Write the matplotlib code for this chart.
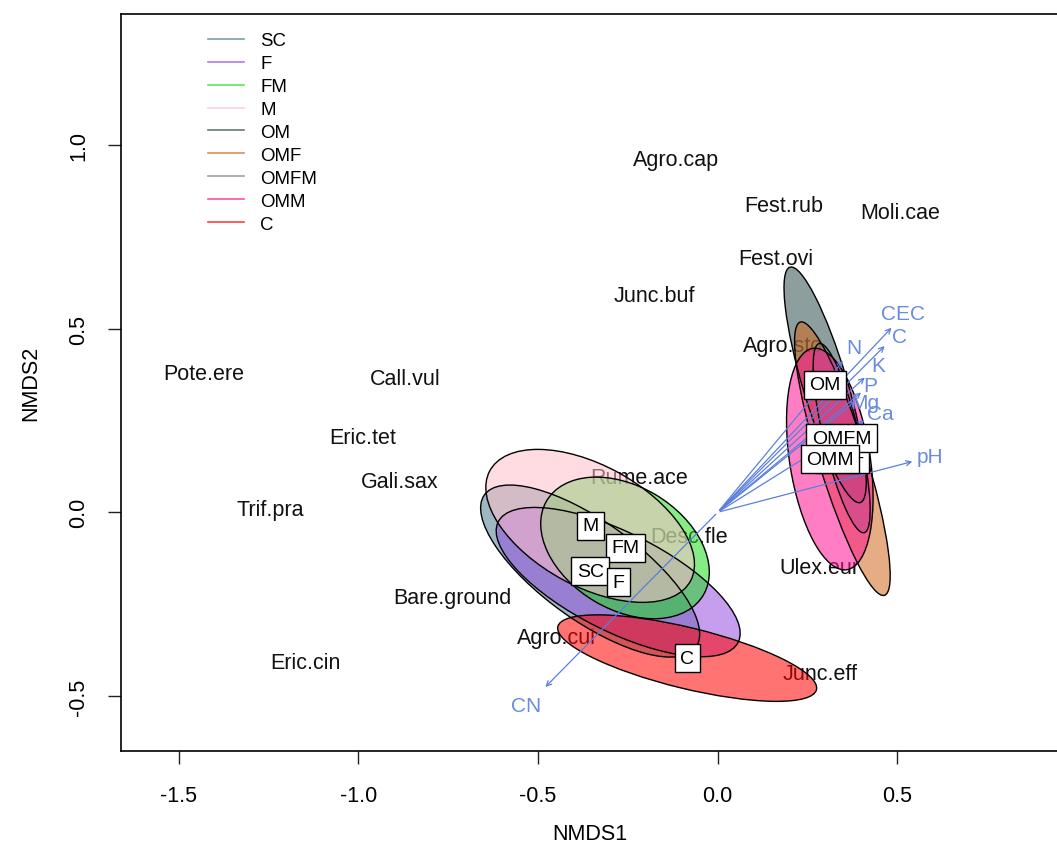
import matplotlib
matplotlib.use("Agg")
import matplotlib.pyplot as plt
from matplotlib.patches import Ellipse
from matplotlib.lines import Line2D

plt.rcParams['font.family'] = ['Liberation Sans', 'DejaVu Sans']

# species scores (NMDS1, NMDS2)
species = ["Agro.cap", "Fest.rub", "Moli.cae", "Fest.ovi", "Junc.buf", "Agro.sto",
           "Pote.ere", "Call.vul", "Eric.tet", "Rume.ace", "Gali.sax", "Trif.pra",
           "Desc.fle", "Bare.ground", "Ulex.eur", "Agro.cui", "Eric.cin", "Junc.eff"]
sp_x = [-0.115, 0.184, 0.507, 0.162, -0.177, 0.183,
        -1.430, -0.870, -0.988, -0.220, -0.884, -1.246,
        -0.080, -0.739, 0.282, -0.448, -1.148, 0.285]
sp_y = [0.961, 0.836, 0.817, 0.690, 0.591, 0.454,
        0.379, 0.364, 0.204, 0.096, 0.083, 0.007,
        -0.065, -0.231, -0.149, -0.340, -0.408, -0.440]

# treatment groups: centroid + ellipse (semi axes, angle in degrees)
groups = ["SC", "F", "FM", "M", "OM", "OMF", "OMFM", "OMM", "C"]
cen_x = [-0.355, -0.277, -0.258, -0.355, 0.299, 0.347, 0.345, 0.312, -0.085]
cen_y = [-0.160, -0.190, -0.097, -0.037, 0.347, 0.146, 0.202, 0.145, -0.397]
semi_a = [0.360, 0.372, 0.253, 0.317, 0.335, 0.390, 0.265, 0.305, 0.370]
semi_b = [0.135, 0.135, 0.168, 0.165, 0.062, 0.066, 0.050, 0.112, 0.083]
angle = [-35, -26, -30, -28, 107, 107.5, 103.7, 99, -13.4]
colors = ["#4f7f8f", "#9650e0", "#22dd22", "#ffc0cb", "#2f4f4f",
          "#d2691e", "#808080", "#ff1493", "#ff0000"]
alpha = 0.55
label_z = [7.3, 7.4, 7.2, 7.1, 7.6, 7.5, 7.7, 7.8, 7.9]

# environmental vectors (envfit)
env = ["CEC", "C", "N", "K", "P", "Mg", "Ca", "pH", "CN"]
env_x = [0.489, 0.470, 0.354, 0.415, 0.405, 0.390, 0.415, 0.549, -0.485]
env_y = [0.508, 0.458, 0.418, 0.372, 0.331, 0.308, 0.254, 0.140, -0.481]
env_lx = [0.516, 0.505, 0.378, 0.446, 0.424, 0.410, 0.452, 0.591, -0.532]
env_ly = [0.540, 0.478, 0.449, 0.400, 0.344, 0.300, 0.268, 0.151, -0.527]

W, H = 1057, 862
fig = plt.figure(figsize=(W / 100, H / 100), dpi=100)
left, right, top, bottom = 120.7, 1058, 15, 751.7
ax = fig.add_axes([left / W, 1 - bottom / H, (right - left) / W, (bottom - top) / H])
ax.set_xlim(-1.6616, 0.9471)
ax.set_ylim(-0.6491, 1.3567)

for name, x, y in zip(species, sp_x, sp_y):
    ax.text(x, y, name, fontsize=15.5, ha='center', va='center', color='#111111', zorder=2)

for i, g in enumerate(groups):
    e = Ellipse((cen_x[i], cen_y[i]), 2 * semi_a[i], 2 * semi_b[i], angle=angle[i],
                facecolor=colors[i], alpha=alpha, edgecolor='none', zorder=3)
    ax.add_patch(e)
    e2 = Ellipse((cen_x[i], cen_y[i]), 2 * semi_a[i], 2 * semi_b[i], angle=angle[i],
                 facecolor='none', edgecolor='black', lw=1, zorder=3.1)
    ax.add_patch(e2)

blue = '#5b7fdc'
for name, x, y, lx, ly in zip(env, env_x, env_y, env_lx, env_ly):
    ax.annotate('', xy=(x, y), xytext=(0, 0),
                arrowprops=dict(arrowstyle='->', color=blue, lw=0.9, mutation_scale=9),
                zorder=4)
    ax.text(lx, ly, name, fontsize=15, color='#6a8ce0', ha='center', va='center', zorder=4)

for i, g in enumerate(groups):
    ax.text(cen_x[i], cen_y[i], g, fontsize=14, ha='center', va='center', zorder=label_z[i],
            bbox=dict(boxstyle='square,pad=0.28', fc='white', ec='black', lw=1))

handles = [Line2D([0], [0], color=c, alpha=0.75, lw=1.2) for c in colors]
ax.legend(handles, groups, loc='upper left', bbox_to_anchor=(0.0935, 0.9755), frameon=False,
          fontsize=13.4, handlelength=1.9, handletextpad=0.9, labelspacing=0.32,
          borderpad=0, borderaxespad=0)

ax.set_xticks([-1.5, -1.0, -0.5, 0.0, 0.5])
ax.set_xticklabels(["-1.5", "-1.0", "-0.5", "0.0", "0.5"])
ax.set_yticks([-0.5, 0.0, 0.5, 1.0])
ax.set_yticklabels(["-0.5", "0.0", "0.5", "1.0"], rotation=90, va='center')
ax.tick_params(axis='both', labelsize=15.5, length=9.5, width=1, color='#222222')
ax.tick_params(axis='x', pad=15)
ax.tick_params(axis='y', pad=13)
for s in ax.spines.values():
    s.set_linewidth(1.2)

ax.set_xlabel('NMDS1', fontsize=15.5)
ax.set_ylabel('NMDS2', fontsize=15.5)
ax.xaxis.set_label_coords(0.5, -0.098)
ax.yaxis.set_label_coords(-0.085, 0.5)

fig.savefig('out.png', dpi=100)
